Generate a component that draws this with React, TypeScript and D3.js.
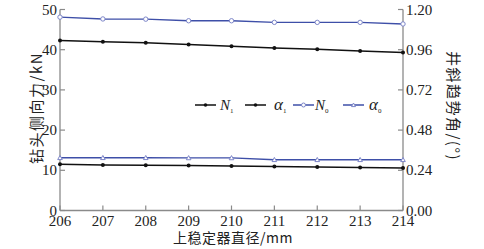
import React from "react";
import * as d3 from "d3";

const diameters = [206, 207, 208, 209, 210, 211, 212, 213, 214];
const N1 = [42.3, 42.0, 41.7, 41.3, 40.85, 40.45, 40.1, 39.7, 39.3];
const N0 = [48.1, 47.65, 47.6, 47.2, 47.2, 46.8, 46.8, 46.8, 46.4];
const alpha1 = [0.276, 0.272, 0.27, 0.268, 0.266, 0.262, 0.26, 0.256, 0.254];
const alpha0 = [0.315, 0.315, 0.315, 0.314, 0.314, 0.303, 0.303, 0.303, 0.303];
const leftTicks = [0, 10, 20, 30, 40, 50];
const rightTicks = [0, 0.24, 0.48, 0.72, 0.96, 1.2];

const W = 484, H = 249;
const m = { left: 60, right: 403, top: 9.5, bottom: 210.5 };

export default function App() {
  const x = d3.scaleLinear().domain([206, 214]).range([m.left, m.right]);
  const yL = d3.scaleLinear().domain([0, 50]).range([m.bottom, m.top]);
  const yR = d3.scaleLinear().domain([0, 1.2]).range([m.bottom, m.top]);
  const lineL = d3.line<number>().x((_, i) => x(diameters[i])).y((d) => yL(d));
  const lineR = d3.line<number>().x((_, i) => x(diameters[i])).y((d) => yR(d));
  const axisColor = "#8a8a8a";
  const blue = "#3e4fa8";
  const mblue = "#7d86c9";
  const serif = "'Liberation Serif', 'Times New Roman', serif";
  const cjk = "'Noto Sans CJK SC', sans-serif";
  const tri = (cx: number, cy: number, r: number) =>
    `M${cx},${cy - r}L${cx + r},${cy + r * 0.8}L${cx - r},${cy + r * 0.8}Z`;

  const legend = [
    { x: 195, color: "#111", marker: "dot", label: "N", sub: "1", tx: 220 },
    { x: 245, color: "#111", marker: "dot", label: "α", sub: "1", tx: 274 },
    { x: 293, color: blue, marker: "circle", label: "N", sub: "0", tx: 315 },
    { x: 343, color: blue, marker: "tri", label: "α", sub: "0", tx: 369 },
  ];

  return (
    <svg width={W} height={H} style={{ position: "absolute", left: 0, top: 0, background: "#fff" }}>
      <line x1={m.left} x2={m.left} y1={m.top} y2={m.bottom} stroke={axisColor} strokeWidth={1.3} />
      <line x1={m.right} x2={m.right} y1={m.top} y2={m.bottom} stroke={axisColor} strokeWidth={1.3} />
      <line x1={m.left} x2={m.right} y1={m.bottom} y2={m.bottom} stroke={axisColor} strokeWidth={1.3} />
      {leftTicks.map((t) => (
        <g key={"l" + t}>
          <line x1={m.left} x2={m.left + 5} y1={yL(t)} y2={yL(t)} stroke={axisColor} strokeWidth={1.2} />
          <text x={m.left - 3} y={yL(t) + 5} textAnchor="end" fontFamily={serif} fontSize={15} fill="#222">{t}</text>
        </g>
      ))}
      {rightTicks.map((t) => (
        <g key={"r" + t}>
          <line x1={m.right - 5} x2={m.right} y1={yR(t)} y2={yR(t)} stroke={axisColor} strokeWidth={1.2} />
          <text x={m.right + 3} y={yR(t) + 5} textAnchor="start" fontFamily={serif} fontSize={15} fill="#222">{t.toFixed(2)}</text>
        </g>
      ))}
      {diameters.map((d) => (
        <g key={"x" + d}>
          <line x1={x(d)} x2={x(d)} y1={m.bottom} y2={m.bottom - 5} stroke={axisColor} strokeWidth={1.2} />
          <text x={x(d)} y={m.bottom + 15} textAnchor="middle" fontFamily={serif} fontSize={15} fill="#222">{d}</text>
        </g>
      ))}
      <text x={233} y={243} textAnchor="middle" fontFamily={cjk} fontSize={14} letterSpacing={0.5} fill="#222">
        上稳定器直径/mm
      </text>
      <text transform={`translate(42,108) rotate(-90)`} textAnchor="middle" fontFamily={cjk} fontSize={15} letterSpacing={1.5} fill="#222">
        钻头侧向力/kN
      </text>
      <text transform={`translate(448,106) rotate(90)`} textAnchor="middle" fontFamily={cjk} fontSize={15} letterSpacing={1.5} fill="#222">
        井斜趋势角/(°)
      </text>
      <path d={lineL(N0) || ""} fill="none" stroke={blue} strokeWidth={1.4} />
      <path d={lineR(alpha0) || ""} fill="none" stroke={blue} strokeWidth={1.4} />
      <path d={lineL(N1) || ""} fill="none" stroke="#111" strokeWidth={1.5} />
      <path d={lineR(alpha1) || ""} fill="none" stroke="#111" strokeWidth={1.5} />
      {diameters.map((d, i) => (
        <g key={"m" + d}>
          <circle cx={x(d)} cy={yL(N1[i])} r={2} fill="#111" />
          <circle cx={x(d)} cy={yR(alpha1[i])} r={2} fill="#111" />
          <circle cx={x(d)} cy={yL(N0[i])} r={2.2} fill="#fff" stroke={mblue} strokeWidth={1} />
          <path d={tri(x(d), yR(alpha0[i]), 2.3)} fill="#fff" stroke={mblue} strokeWidth={1} />
        </g>
      ))}
      {legend.map((l, i) => (
        <g key={"lg" + i}>
          <line x1={l.x} x2={l.x + 21} y1={105} y2={105} stroke={l.color} strokeWidth={1.5} />
          {l.marker === "dot" && <circle cx={l.x + 10.5} cy={105} r={1.8} fill="#111" />}
          {l.marker === "circle" && <circle cx={l.x + 10.5} cy={105} r={2} fill="#fff" stroke={mblue} strokeWidth={1} />}
          {l.marker === "tri" && <path d={tri(l.x + 10.5, 105, 2)} fill="#fff" stroke={mblue} strokeWidth={1} />}
          <text x={l.tx} y={110} fontFamily={serif} fontStyle="italic" fontSize={l.label === "α" ? 17 : 15} fill="#222">
            {l.label}
            <tspan fontSize={7} fontStyle="normal" dy={3}>{l.sub}</tspan>
          </text>
        </g>
      ))}
    </svg>
  );
}
